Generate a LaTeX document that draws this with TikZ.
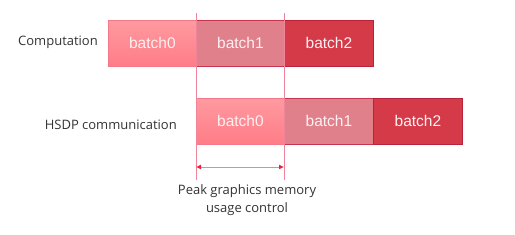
\documentclass[tikz,border=0pt]{standalone}
\usepackage{fontspec}
\setmainfont{Open Sans}
\newfontfamily\arialfont{Liberation Sans}
\usetikzlibrary{arrows.meta}
\definecolor{bzerotop}{HTML}{FF9AA0}
\definecolor{bzerobot}{HTML}{FF7C86}
\definecolor{bzeroline}{HTML}{F2788A}
\definecolor{bone}{HTML}{E0808A}
\definecolor{boneline}{HTML}{C8344E}
\definecolor{btwo}{HTML}{D43A48}
\definecolor{btwoline}{HTML}{B8223A}
\definecolor{guide}{HTML}{F0849A}
\definecolor{arrowred}{HTML}{E8213F}
\definecolor{labeltext}{HTML}{333333}
\definecolor{batchtext}{HTML}{FFF0F2}
\begin{document}
\begin{tikzpicture}[x=1pt,y=-1pt,
  batchbox/.style={minimum width=88pt,minimum height=46pt,inner sep=0pt,line width=0.8pt,
    text=batchtext,font=\arialfont\fontsize{15.5}{17}\selectfont},
  bzero/.style={batchbox,draw=bzeroline,top color=bzerotop,bottom color=bzerobot},
  bonebox/.style={batchbox,draw=boneline,fill=bone},
  btwobox/.style={batchbox,draw=btwoline,fill=btwo},
  rowlabel/.style={font=\fontsize{13}{15}\selectfont,text=labeltext,inner sep=0pt},
  guideline/.style={draw=guide,line width=0.8pt},
]
\useasboundingbox (0,0) rectangle (515,234);
% row 1
\node[bzero,anchor=north west,minimum width=88pt] (c0) at (108,20) {batch0};
\node[bonebox,anchor=north west] (c1) at (196,20) {batch1};
\node[btwobox,anchor=north west,minimum width=89pt] (c2) at (284,20) {batch2};
% row 2
\node[bzero,anchor=north west] (h0) at (196,98) {batch0};
\node[bonebox,anchor=north west,minimum width=89pt] (h1) at (284,98) {batch1};
\node[btwobox,anchor=north west,minimum width=89pt] (h2) at (373,98) {batch2};
% labels
\node[rowlabel,anchor=east] (lc) at (98,42) {Computation};
\node[rowlabel,anchor=east] (lh) at (177,125) {HSDP communication};
% guides
\coordinate (g1t) at (196,13);
\coordinate (g1b) at (196,180);
\coordinate (g2t) at (284,13);
\coordinate (g2b) at (284,180);
\draw[guideline] (g1t) -- (g1b);
\draw[guideline] (g2t) -- (g2b);
\coordinate (a1) at (196,167);
\coordinate (a2) at (284,167);
\draw[draw=guide,line width=0.8pt,{Latex[length=5pt,width=5pt,color=arrowred]}-{Latex[length=5pt,width=5pt,color=arrowred]}] (a1) -- (a2);
\node[rowlabel,align=center,font=\fontsize{13}{18}\selectfont] (peak) at (247,200) {Peak graphics memory\\usage control};
\end{tikzpicture}
\end{document}
